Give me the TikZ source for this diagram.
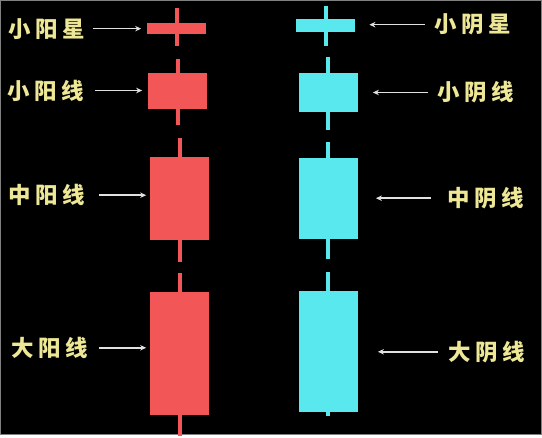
\documentclass[tikz,border=0pt]{standalone}
\usepackage{fontspec}
\usepackage{tikz}
\usepackage{xcolor}
\usetikzlibrary{arrows.meta}

\newfontfamily\cjk[LetterSpace=20]{Noto Sans CJK SC}

\definecolor{yangred}{RGB}{242,86,86}
\definecolor{yincyan}{RGB}{88,232,238}
\definecolor{labelyellow}{RGB}{238,232,150}
\definecolor{arrowgrey}{RGB}{225,225,225}

\begin{document}
\begin{tikzpicture}[x=1pt, y=-1pt,
  lbl/.style={font=\cjk\bfseries\fontsize{22.5}{22.5}\selectfont, text=labelyellow, inner sep=0pt},
  redbody/.style={fill=yangred, draw=none, minimum width=59pt, inner sep=0pt},
  cyanbody/.style={fill=yincyan, draw=none, minimum width=59pt, inner sep=0pt},
  redwick/.style={yangred, line width=4pt},
  cyanwick/.style={yincyan, line width=4pt},
  ptr/.style={arrowgrey, line width=1.6pt, -{Stealth[length=6pt,width=5.5pt]}}]

% ===== Background =====

\fill[black] (0,0) rectangle (542,435);
\draw[gray, line width=1.5pt] (0,0) rectangle (542,435);

% ===== Red (yang) candles =====

\draw[redwick] (177,7) -- (177,45);
\node[redbody, minimum height=11pt] (ystar) at (176.5,27.5) {};

\draw[redwick] (177.5,58) -- (177.5,125);
\node[redbody, minimum height=37pt] (ysmall) at (177.5,90.5) {};

\draw[redwick] (179.5,138) -- (179.5,262);
\node[redbody, minimum height=83pt] (ymid) at (179.5,198.5) {};

\draw[redwick] (179.5,273) -- (179.5,436);
\node[redbody, minimum height=123pt] (ybig) at (179.5,353.5) {};

% ===== Cyan (yin) candles =====

\draw[cyanwick] (326,5) -- (326,45);
\node[cyanbody, minimum height=13pt] (nstar) at (326,24.5) {};

\draw[cyanwick] (328.5,56) -- (328.5,130);
\node[cyanbody, minimum height=40pt] (nsmall) at (328.5,92) {};

\draw[cyanwick] (328.5,142) -- (328.5,259);
\node[cyanbody, minimum height=81pt] (nmid) at (328.5,198.5) {};

\draw[cyanwick] (328.5,272) -- (328.5,416);
\node[cyanbody, minimum height=121pt] (nbig) at (328.5,351.5) {};

% ===== Labels =====

\node[lbl] (lystar) at (46.5,28) {小阳星};
\node[lbl] (lysmall) at (45,90) {小阳线};
\node[lbl] (lymid) at (46.5,195) {中阳线};
\node[lbl] (lybig) at (49,348) {大阳线};

\node[lbl] (lnstar) at (473.5,24) {小阴星};
\node[lbl] (lnsmall) at (476,92) {小阴线};
\node[lbl] (lnmid) at (486,198) {中阴线};
\node[lbl] (lnbig) at (487,352) {大阴线};

% ===== Arrows =====

\draw[ptr, shorten <=8pt, shorten >=6pt] (lystar.east) -- (ystar.west |- lystar.east);
\draw[ptr, shorten <=11pt, shorten >=6pt] (lysmall.east) -- (ysmall.west |- lysmall.east);
\draw[ptr, shorten <=14pt, shorten >=4pt] (lymid.east) -- (ymid.west |- lymid.east);
\draw[ptr, shorten <=11pt, shorten >=4pt] (lybig.east) -- (ybig.west |- lybig.east);

\draw[ptr, shorten <=10pt, shorten >=14pt] (lnstar.west) -- (nstar.east |- lnstar.west);
\draw[ptr, shorten <=9pt, shorten >=15pt] (lnsmall.west) -- (nsmall.east |- lnsmall.west);
\draw[ptr, shorten <=16pt, shorten >=18pt] (lnmid.west) -- (nmid.east |- lnmid.west);
\draw[ptr, shorten <=10pt, shorten >=20pt] (lnbig.west) -- (nbig.east |- lnbig.west);

\end{tikzpicture}
\end{document}
